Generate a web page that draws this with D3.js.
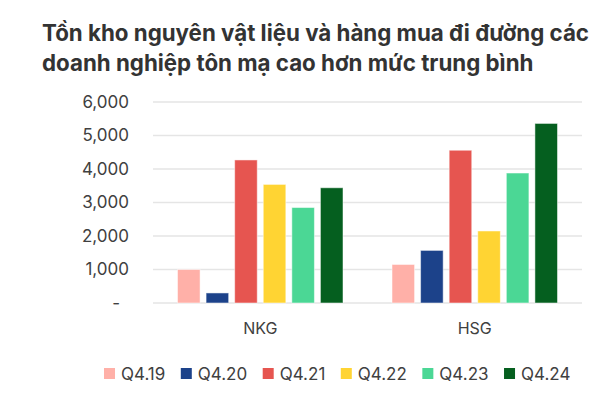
<!DOCTYPE html>
<html>
<head>
<meta charset="utf-8">
<script src="https://cdn.jsdelivr.net/npm/d3@7"></script>
<style>
  body { margin: 0; background: #fff; }
  svg { display: block; font-family: Inter, "Noto Sans", sans-serif; }
</style>
</head>
<body>
<svg id="chart" width="608" height="399"></svg>
<script>
// chart data
const companies = ["NKG", "HSG"];
const quarters = ["Q4.19", "Q4.20", "Q4.21", "Q4.22", "Q4.23", "Q4.24"];
const nkgValues = [1000, 300, 4270, 3540, 2850, 3440];
const hsgValues = [1150, 1570, 4560, 2150, 3880, 5360];
const yTicks = [0, 1000, 2000, 3000, 4000, 5000, 6000];
const colors = ["#ffb0a8", "#1c428a", "#e65550", "#ffd433", "#4bd795", "#055f1f"];
const titleLines = [
  "Tồn kho nguyên vật liệu và hàng mua đi đường các",
  "doanh nghiệp tôn mạ cao hơn mức trung bình"
];

const rows = companies.map((c, i) => ({
  company: c,
  values: [nkgValues, hsgValues][i]
}));

const svg = d3.select("#chart");
const margin = { top: 102, right: 26, bottom: 96, left: 153 };
const width = 608 - margin.left - margin.right;
const height = 399 - margin.top - margin.bottom;

// title
svg.append("g")
  .selectAll("text")
  .data(titleLines)
  .join("text")
  .attr("x", 42)
  .attr("y", (d, i) => 41 + i * 30)
  .style("font-size", "22.3px")
  .style("font-weight", 700)
  .style("fill", "#333")
  .text((d) => d);

const g = svg.append("g").attr("transform", `translate(${margin.left},${margin.top})`);

const x0 = d3.scaleBand().domain(companies).range([0, width]).padding(0);
const x1 = d3.scaleBand()
  .domain(quarters)
  .range([24.5, x0.bandwidth() - 24.5])
  .paddingInner(0.21)
  .paddingOuter(0);
const y = d3.scaleLinear().domain([0, 6000]).range([height, 0]);

// gridlines
g.append("g")
  .selectAll("line")
  .data(yTicks)
  .join("line")
  .attr("x1", 0)
  .attr("x2", width)
  .attr("y1", (d) => y(d))
  .attr("y2", (d) => y(d))
  .style("stroke", "#e5e5e5")
  .style("stroke-width", 1.5);

// y axis labels
const yAxis = d3.axisLeft(y)
  .tickValues(yTicks)
  .tickSize(0)
  .tickPadding(24)
  .tickFormat((d) => (d === 0 ? "-" : d3.format(",")(d)));
g.append("g")
  .call(yAxis)
  .call((a) => a.select(".domain").remove())
  .selectAll("text")
  .style("font-size", "17px")
  .style("font-family", "Inter, sans-serif")
  .style("fill", "#404040")
  .attr("dx", (d) => (d === 0 ? -9 : 0));

// bars
const groups = g.append("g")
  .selectAll("g")
  .data(rows)
  .join("g")
  .attr("transform", (d) => `translate(${x0(d.company)},0)`);

groups.selectAll("rect")
  .data((d) => d.values.map((v, i) => ({ q: quarters[i], v: v })))
  .join("rect")
  .attr("x", (d) => x1(d.q))
  .attr("y", (d) => y(d.v))
  .attr("width", x1.bandwidth())
  .attr("height", (d) => y(0) - y(d.v))
  .style("fill", (d, i) => colors[i])
  .style("stroke", "rgba(255,255,255,0.5)")
  .style("stroke-width", 1);

// x axis labels
const xAxis = d3.axisBottom(x0).tickSize(0).tickPadding(20);
g.append("g")
  .attr("transform", `translate(0,${height})`)
  .call(xAxis)
  .call((a) => a.select(".domain").remove())
  .selectAll("text")
  .style("font-size", "16px")
  .style("font-family", "Inter, sans-serif")
  .style("fill", "#404040");

// legend
const legend = svg.append("g").attr("transform", "translate(104,368)");
let lx = 0;
quarters.forEach((q, i) => {
  const item = legend.append("g").attr("transform", `translate(${lx},0)`);
  item.append("rect")
    .attr("width", 11)
    .attr("height", 11)
    .style("fill", colors[i]);
  const t = item.append("text")
    .attr("x", 17)
    .attr("y", 11.5)
    .style("font-size", "17px")
    .style("fill", "#404040")
    .text(q);
  lx += 17 + t.node().getComputedTextLength() + 15.5;
});
</script>
</body>
</html>
